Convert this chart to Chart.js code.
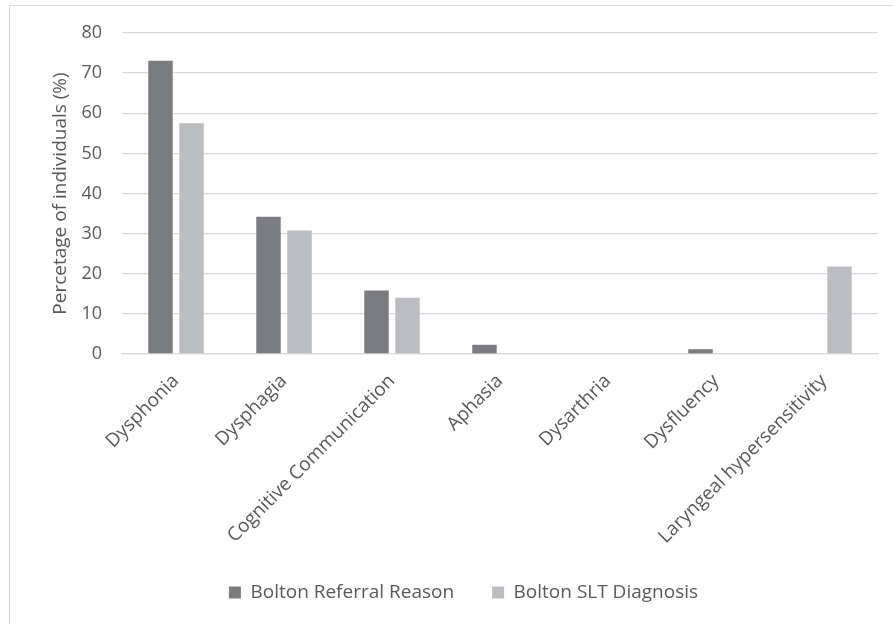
<!DOCTYPE html>
<html>
<head>
<meta charset="utf-8">
<script src="https://cdn.jsdelivr.net/npm/chart.js@4/dist/chart.umd.min.js"></script>
<style>
  html, body { margin: 0; padding: 0; background: #fff; }
  #wrap { position: relative; width: 893px; height: 624px; }
  #frame { position: absolute; left: 9px; top: 5px; right: -2px; bottom: -2px;
           border-left: 1px solid #d9d9d9; border-top: 1px solid #d9d9d9; pointer-events: none; }
  canvas { position: absolute; left: 0; top: 0; }
</style>
</head>
<body>
<div id="wrap">
  <canvas id="chart" width="893" height="624"></canvas>
  <div id="frame"></div>
</div>
<script>
/* --------- data --------- */
const categories = [
  "Dysphonia", "Dysphagia", "Cognitive Communication", "Aphasia",
  "Dysarthria", "Dysfluency", "Laryngeal hypersensitivity"
];
const referralReason = [73.1, 34.2, 15.8, 2.3, 0, 1.2, 0];
const sltDiagnosis   = [57.5, 30.8, 14.0, 0, 0, 0, 21.8];
const yTicks = [0, 10, 20, 30, 40, 50, 60, 70, 80];

/* --------- style --------- */
const FONT  = "'Open Sans', 'Liberation Sans', sans-serif";
const TEXT  = "#595959";
const GRID  = "#d9d9d9";
const DARK  = "#7b7c80";
const LIGHT = "#bcbdc1";

new Chart(document.getElementById("chart"), {
  type: "bar",
  data: {
    labels: categories,
    datasets: [
      { label: "Bolton Referral Reason", data: referralReason, backgroundColor: DARK },
      { label: "Bolton SLT Diagnosis",   data: sltDiagnosis,   backgroundColor: LIGHT }
    ]
  },
  options: {
    responsive: false,
    animation: false,
    categoryPercentage: 0.574,
    barPercentage: 0.79,
    layout: { padding: { left: 49, right: 15, top: 33, bottom: 12 } },
    plugins: {
      tooltip: { enabled: false },
      legend: {
        position: "bottom",
        labels: {
          color: TEXT,
          font: { family: FONT, size: 19 },
          boxWidth: 12, boxHeight: 12,
          padding: 38
        }
      }
    },
    scales: {
      x: {
        grid: { display: false },
        border: { color: GRID, width: 1.3 },
        ticks: {
          color: TEXT,
          font: { family: FONT, size: 19 },
          minRotation: 45, maxRotation: 45,
          padding: 8
        },
        afterFit: s => { s.height = 191; }
      },
      y: {
        min: 0, max: 80,
        afterBuildTicks: s => { s.ticks = yTicks.map(v => ({ value: v })); },
        grid: { color: GRID, lineWidth: 1.3, drawTicks: false },
        border: { display: false },
        ticks: {
          color: TEXT,
          font: { family: FONT, size: 18 },
          padding: 20
        },
        title: {
          display: true,
          text: "Percetage of individuals (%)",
          color: TEXT,
          font: { family: FONT, size: 19 },
          padding: { top: 0, bottom: 4 }
        },
        afterFit: s => { s.width = 73; }
      }
    }
  }
});
</script>
</body>
</html>
